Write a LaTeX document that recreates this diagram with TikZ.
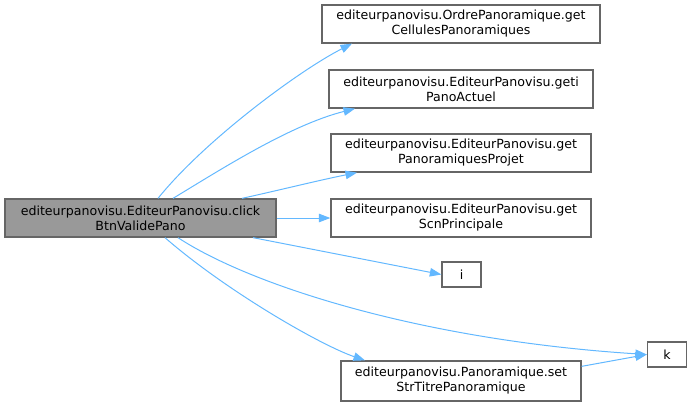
\documentclass[tikz,border=0pt]{standalone}
\usepackage{fontspec}
\setmainfont{DejaVu Sans}
\usetikzlibrary{arrows.meta}
\definecolor{edgeblue}{HTML}{63B8FF}
\definecolor{boxborder}{HTML}{666666}
\definecolor{mainfill}{HTML}{999999}
\begin{document}
\begin{tikzpicture}[x=1pt,y=-1pt,
  box/.style={draw=boxborder, fill=white, line width=1.3pt, inner sep=0pt, align=center,
    font=\fontsize{12.6}{15}\selectfont},
  mainbox/.style={box, fill=mainfill},
  edge/.style={draw=edgeblue, line width=1pt, -{Triangle[length=11.5pt,width=8.5pt]}}]
\useasboundingbox (0,0) rectangle (692,408);
\node[mainbox, minimum width=271pt, minimum height=38pt] (main) at (140.5,218) {editeurpanovisu.EditeurPanovisu.click\\BtnValidePano};
\node[box, minimum width=278pt, minimum height=38pt] (n1) at (461,24) {editeurpanovisu.OrdrePanoramique.get\\CellulesPanoramiques};
\node[box, minimum width=264pt, minimum height=38pt] (n2) at (461,89) {editeurpanovisu.EditeurPanovisu.geti\\PanoActuel};
\node[box, minimum width=260pt, minimum height=38pt] (n3) at (461,153) {editeurpanovisu.EditeurPanovisu.get\\PanoramiquesProjet};
\node[box, minimum width=260pt, minimum height=38pt] (n4) at (461,218) {editeurpanovisu.EditeurPanovisu.get\\ScnPrincipale};
\node[box, minimum width=39pt, minimum height=25pt] (n5) at (461.5,274.5) {i};
\node[box, minimum width=39pt, minimum height=25pt] (n6) at (667,354.5) {k};
\node[box, minimum width=240pt, minimum height=40pt] (n7) at (461,381) {editeurpanovisu.Panoramique.set\\StrTitrePanoramique};

\draw[edge] ([xshift=17.5pt]main.north) .. controls (205,140) and (300,70) .. ([xshift=-109pt]n1.south);
\draw[edge] ([xshift=32.5pt]main.north) .. controls (220,170) and (290,125) .. ([xshift=-106pt]n2.south);
\draw[edge] ([xshift=101.5pt]main.north) .. controls (280,190) and (320,180) .. ([xshift=-104pt]n3.south);
\draw[edge] (main.east) -- (n4.west);
\draw[edge] ([xshift=112.5pt]main.south) -- (n5.west);
\draw[edge] ([xshift=37.5pt]main.south) .. controls (250,285) and (420,340) .. (n6.west);
\draw[edge] ([xshift=24.5pt]main.south) .. controls (225,290) and (320,345) .. ([xshift=-96pt]n7.north);
\draw[edge] ([yshift=-6pt]n7.north east) -- (n6.west);
\end{tikzpicture}
\end{document}
